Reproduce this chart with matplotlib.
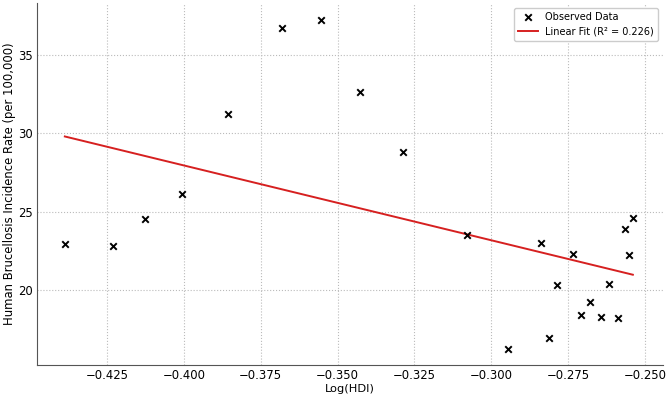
import matplotlib.pyplot as plt
import numpy as np

# Datos
log_hdi = [-0.4387, -0.4231, -0.4126, -0.4005, -0.3857, -0.3682, -0.3554, -0.3426,
           -0.3287, -0.3079, -0.2838, -0.2733, -0.2786, -0.2680, -0.2707, -0.2642,
           -0.2589, -0.2616, -0.2564, -0.2540, -0.2552, -0.2812, -0.2946]
incidencia = [22.9, 22.8, 24.5, 26.1, 31.2, 36.7, 37.2, 32.6,
              28.8, 23.5, 23.0, 22.3, 20.3, 19.2, 18.4, 18.3,
              18.2, 20.4, 23.9, 24.6, 22.2, 16.9, 16.2]

x = np.array(log_hdi)
y = np.array(incidencia)

# Ajuste lineal
pend, corte = np.polyfit(x, y, 1)
pred = pend * x + corte
r2 = 1 - np.sum((y - pred) ** 2) / np.sum((y - y.mean()) ** 2)
print(pend, corte, r2)

fig = plt.figure(figsize=(6.69, 3.99), dpi=100)
ax = fig.add_axes([0.056, 0.085, 0.935, 0.907])

ax.scatter(x, y, marker='x', color='black', s=22, linewidths=1.4, label='Observed Data', zorder=3)
xs = np.array([x.min(), x.max()])
ax.plot(xs, pend * xs + corte, color='#d62020', linewidth=1.4, label='Linear Fit (R² = 0.226)')

ax.set_xlim(-0.4476, -0.2442)
ax.set_ylim(15.2, 38.3)
ax.set_xticks([-0.425, -0.400, -0.375, -0.350, -0.325, -0.300, -0.275, -0.250])
ax.set_yticks([20, 25, 30, 35])

ax.grid(True, linestyle=':', color='#bbbbbb', linewidth=0.8)
ax.set_axisbelow(True)
for lado in ['top', 'right']:
    ax.spines[lado].set_visible(False)
for lado in ['left', 'bottom']:
    ax.spines[lado].set_color('#555555')
ax.tick_params(length=0, labelsize=8.4, pad=3)

ax.set_xlabel('Log(HDI)', fontsize=8.2, labelpad=1)
ax.set_ylabel('Human Brucellosis Incidence Rate (per 100,000)', fontsize=8.4, labelpad=2)

ax.legend(loc='upper right', fontsize=7, framealpha=1, edgecolor='#cccccc')

plt.savefig('out.png', dpi=100)
